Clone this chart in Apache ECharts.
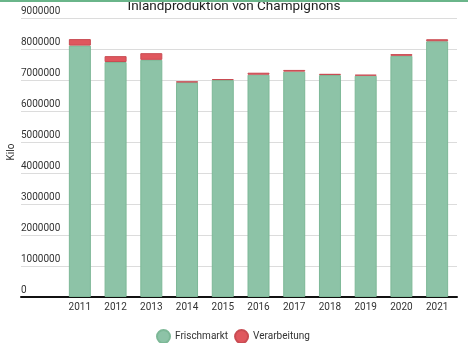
<!DOCTYPE html>
<html>
<head>
<meta charset="utf-8">
<script src="https://cdn.jsdelivr.net/npm/echarts@6/dist/echarts.min.js"></script>
<style>html,body{margin:0;padding:0;background:#fff}#c{width:468px;height:343px}</style>
</head>
<body>
<div id="c"></div>
<script>
const years = ['2011','2012','2013','2014','2015','2016','2017','2018','2019','2020','2021'];
const frischmarkt = [8110000,7580000,7650000,6930000,7000000,7170000,7270000,7160000,7140000,7780000,8250000];
const verarbeitung = [210000,190000,215000,20000,30000,65000,55000,40000,30000,55000,65000];
const yTicks = {min:0, max:9000000, interval:1000000};
const yAxisTitle = 'Kilo';

const chart = echarts.init(document.getElementById('c'), null, {renderer:'canvas'});
const font = 'Roboto, "Noto Sans", sans-serif';
chart.setOption({
  animation:false,
  textStyle:{fontFamily:font},
  title:{text:'Inlandproduktion von Champignons', left:'center', top:-5,
    textStyle:{fontSize:13.5, fontWeight:'normal', color:'#222', fontFamily:font}},
  graphic:[
    {type:'rect', left:0, top:0, shape:{width:468, height:2}, style:{fill:'#6ab58a'}, z:10},
    {type:'text', x:11, y:152, rotation:Math.PI/2,
      style:{text:yAxisTitle, fill:'#333', font:'10px ' + font, textAlign:'center', textVerticalAlign:'middle'}}
  ],
  legend:{top:329, left:156, padding:0, icon:'circle', itemWidth:13, itemHeight:13, itemGap:6,
    textStyle:{fontSize:10, color:'#333', fontFamily:font},
    data:['Frischmarkt','Verarbeitung']},
  grid:[
    {left:62, right:13, top:18, bottom:46, containLabel:false, outerBoundsMode:'none'},
    {left:21, right:11, top:18, bottom:46, containLabel:false, outerBoundsMode:'none'}
  ],
  xAxis:[
    {type:'category', gridIndex:0, data:years, axisLine:{show:false}, axisTick:{show:false},
      axisLabel:{fontSize:10, color:'#333', margin:5, fontFamily:font}},
    {type:'value', gridIndex:1, min:0, max:1, axisLine:{show:true, lineStyle:{color:'#111', width:2}},
      axisTick:{show:false}, axisLabel:{show:false}, splitLine:{show:false}}
  ],
  yAxis:[
    {type:'value', gridIndex:0, min:yTicks.min, max:yTicks.max, interval:yTicks.interval, show:false, splitLine:{show:false}},
    {type:'value', gridIndex:1, min:yTicks.min, max:yTicks.max, interval:yTicks.interval,
      axisLine:{show:false}, axisTick:{show:false},
      axisLabel:{inside:true, margin:0, verticalAlign:'bottom', align:'left', padding:[0,0,2,0],
        fontSize:10, color:'#333', fontFamily:font, formatter:function(v){return String(v);}},
      splitLine:{show:true, lineStyle:{color:'#dcdcdc', width:1}}}
  ],
  series:[
    {name:'Frischmarkt', type:'bar', stack:'a', xAxisIndex:0, yAxisIndex:0, barWidth:22, data:frischmarkt,
      itemStyle:{color:'#8dc3a7', borderColor:'#7db897', borderWidth:1}},
    {name:'Verarbeitung', type:'bar', stack:'a', xAxisIndex:0, yAxisIndex:0, barWidth:22, data:verarbeitung,
      itemStyle:{color:'#e0575e', borderColor:'#c94c53', borderWidth:1}}
  ]
});
</script>
</body>
</html>
